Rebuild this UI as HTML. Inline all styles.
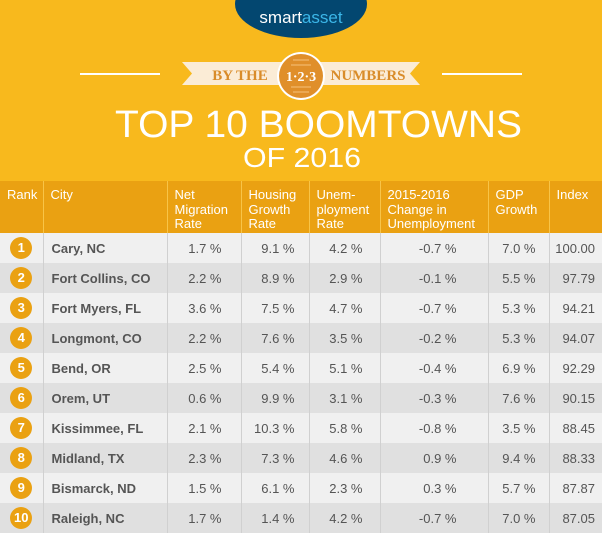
<!DOCTYPE html>
<html><head><meta charset="utf-8"><style>
body{margin:0;width:602px;height:533px;overflow:hidden;background:#f8b91d;font-family:"Liberation Sans",sans-serif;position:relative}
.abs{position:absolute}
table{position:absolute;left:0;top:181px;width:602px;border-collapse:collapse;table-layout:fixed}
th{background:#eaa112;color:#fff;font-weight:normal;font-size:13px;line-height:14.5px;text-align:left;vertical-align:top;padding:7px 0 0 7px;height:45px;border-left:1px solid #f8c447}
th:first-child{border-left:none}
td{height:30px;padding:0;font-size:13px;color:#555;text-align:right;border-left:1px solid #d0d0d0}
td:first-child{border-left:none;text-align:center}
tr.o td{background:#f0f0f0}tr.e td{background:#e0e0e0}
td.city{text-align:left;padding-left:8px;font-weight:bold}
.num{display:inline-block;width:22px;height:22px;border-radius:50%;background:#eaa112;color:#fff;font-weight:bold;line-height:22px;font-size:13px;text-align:center}
</style></head><body>
<div class="abs" style="left:235px;top:-30px;width:132px;height:68px;border-radius:50%;background:#034770"></div>
<div class="abs" style="left:235px;top:8px;width:132px;text-align:center;font-size:17px;color:#fff">smart<span style="color:#3bb6e8">asset</span></div>
<div class="abs" style="left:80px;top:73px;width:80px;height:2px;background:#fff"></div>
<div class="abs" style="left:442px;top:73px;width:80px;height:2px;background:#fff"></div>
<svg class="abs" style="left:0;top:0" width="602" height="175">
<polygon points="182,62 420,62 410,73.5 420,85 182,85 192,73.5" fill="#fbecd6"/>
<circle cx="301" cy="76" r="24" fill="#fff"/><circle cx="301" cy="76" r="22" fill="#e08f2a"/>
<line x1="293" y1="60" x2="309" y2="60" stroke="#f6c27a"/><line x1="291" y1="65" x2="311" y2="65" stroke="#f6c27a"/>
<line x1="291" y1="87" x2="311" y2="87" stroke="#f6c27a"/><line x1="293" y1="92" x2="309" y2="92" stroke="#f6c27a"/>
<text x="240" y="80" text-anchor="middle" font-family="Liberation Serif,serif" font-weight="bold" font-size="15" fill="#d98c2a">BY THE</text>
<text x="301" y="81" text-anchor="middle" font-family="Liberation Serif,serif" font-weight="bold" font-size="14" fill="#fff">1·2·3</text>
<text x="368" y="80" text-anchor="middle" font-family="Liberation Serif,serif" font-weight="bold" font-size="15" fill="#d98c2a">NUMBERS</text>
<text x="115" y="137" textLength="407" lengthAdjust="spacingAndGlyphs" font-family="Liberation Sans,sans-serif" font-size="38" fill="#fff">TOP 10 BOOMTOWNS</text>
<text x="243" y="167" textLength="118" lengthAdjust="spacingAndGlyphs" font-family="Liberation Sans,sans-serif" font-size="28" fill="#fff">OF 2016</text>
</svg>
<table>
<colgroup><col style="width:43px"><col style="width:124px"><col style="width:74px"><col style="width:68px"><col style="width:71px"><col style="width:108px"><col style="width:61px"><col style="width:53px"></colgroup>
<tr><th>Rank</th><th>City</th><th>Net<br>Migration<br>Rate</th><th>Housing<br>Growth<br>Rate</th><th>Unem-<br>ployment<br>Rate</th><th>2015-2016<br>Change in<br>Unemployment</th><th>GDP<br>Growth</th><th>Index</th></tr>
<tbody id="tb"></tbody>
</table>
<script>
const ranks=[1,2,3,4,5,6,7,8,9,10];
const cities=["Cary, NC","Fort Collins, CO","Fort Myers, FL","Longmont, CO","Bend, OR","Orem, UT","Kissimmee, FL","Midland, TX","Bismarck, ND","Raleigh, NC"];
const migration=["1.7","2.2","3.6","2.2","2.5","0.6","2.1","2.3","1.5","1.7"];
const housing=["9.1","8.9","7.5","7.6","5.4","9.9","10.3","7.3","6.1","1.4"];
const unemp=["4.2","2.9","4.7","3.5","5.1","3.1","5.8","4.6","2.3","4.2"];
const change=["-0.7","-0.1","-0.7","-0.2","-0.4","-0.3","-0.8","0.9","0.3","-0.7"];
const gdp=["7.0","5.5","5.3","5.3","6.9","7.6","3.5","9.4","5.7","7.0"];
const index=["100.00","97.79","94.21","94.07","92.29","90.15","88.45","88.33","87.87","87.05"];
const pads=[0,0,19,14,17,31,13,7];
const tb=document.getElementById('tb');
ranks.forEach((r,i)=>{
 const tr=document.createElement('tr');
 
 
 tr.className=i%2?'e':'o';
 const vals=[null,cities[i],migration[i]+' %',housing[i]+' %',unemp[i]+' %',change[i]+' %',gdp[i]+' %',index[i]];
 vals.forEach((v,j)=>{
  const td=document.createElement('td');
  
  
  if(j===0){td.innerHTML='<span class="num">'+r+'</span>';}
  else{td.textContent=v;if(j===1)td.className='city';else td.style.paddingRight=pads[j]+'px';}
  tr.appendChild(td);
 });
 tb.appendChild(tr);
});
</script>
</body></html>
